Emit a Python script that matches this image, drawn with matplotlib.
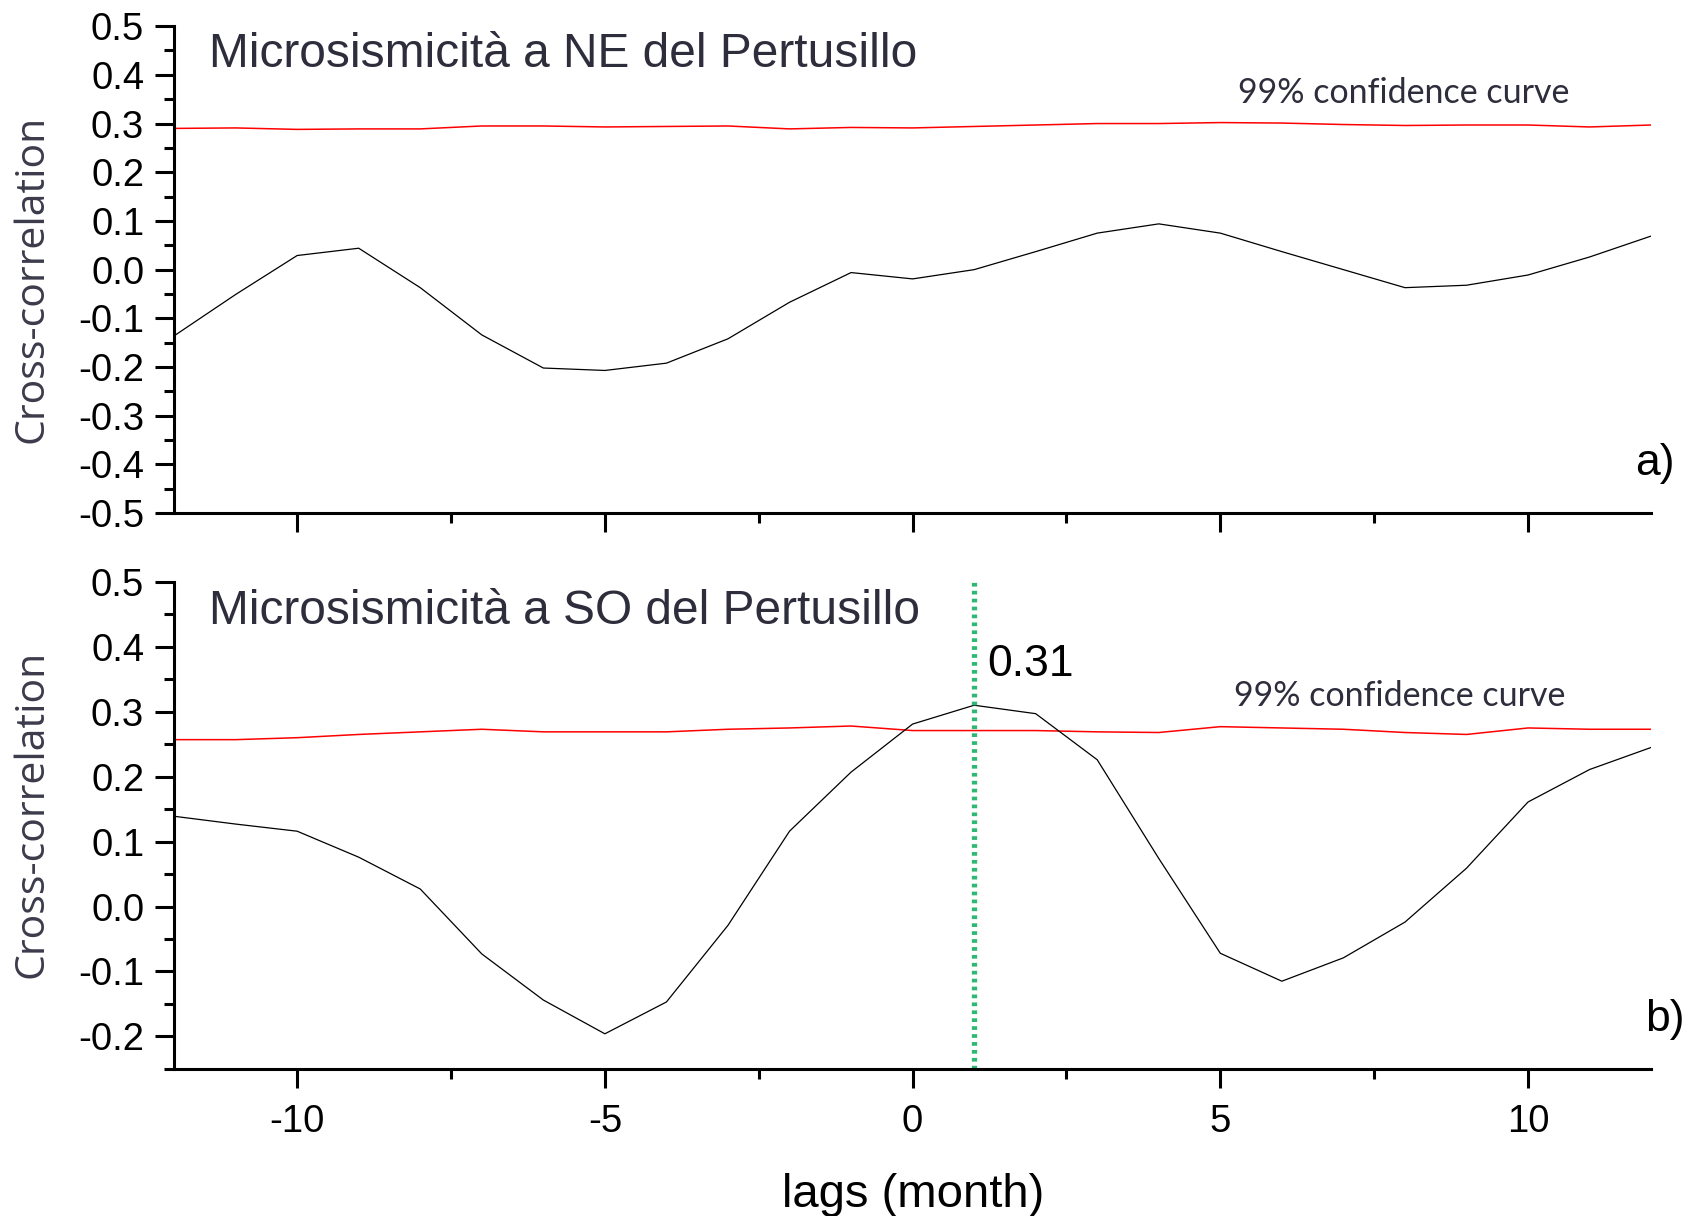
import numpy as np
import matplotlib
matplotlib.use("Agg")
import matplotlib.pyplot as plt
from matplotlib.ticker import MultipleLocator

plt.rcParams['font.family'] = ['Liberation Sans', 'DejaVu Sans']

# lags in months
lags = np.arange(-12, 13)

# panel a) NE del Pertusillo
ne_corr = [-0.136, -0.051, 0.029, 0.044, -0.037, -0.134, -0.202, -0.207, -0.192,
           -0.142, -0.067, -0.006, -0.019, 0.000, 0.037, 0.075, 0.094, 0.075,
           0.037, 0.000, -0.037, -0.032, -0.011, 0.026, 0.069]
ne_conf = [0.290, 0.291, 0.288, 0.289, 0.289, 0.295, 0.295, 0.293, 0.294,
           0.295, 0.289, 0.292, 0.291, 0.294, 0.297, 0.300, 0.300, 0.302,
           0.301, 0.298, 0.296, 0.297, 0.297, 0.293, 0.297]

# panel b) SO del Pertusillo
so_corr = [0.139, 0.127, 0.116, 0.076, 0.027, -0.073, -0.144, -0.196, -0.147,
           -0.029, 0.116, 0.207, 0.281, 0.310, 0.297, 0.226, 0.074, -0.072,
           -0.115, -0.079, -0.024, 0.059, 0.161, 0.211, 0.245]
so_conf = [0.257, 0.257, 0.260, 0.265, 0.269, 0.273, 0.269, 0.269, 0.269,
           0.273, 0.275, 0.278, 0.271, 0.271, 0.271, 0.269, 0.268, 0.277,
           0.275, 0.273, 0.268, 0.265, 0.275, 0.273, 0.273]

peak_lag = 1
peak_label = "0.31"

fig = plt.figure(figsize=(16.9, 12.16), dpi=100)
ax1 = fig.add_axes([0.103, 0.578, 0.874, 0.4005])
ax2 = fig.add_axes([0.103, 0.121, 0.874, 0.4005])

title_col = '#2d2d3c'

for ax in (ax1, ax2):
    for s in ('top', 'right'):
        ax.spines[s].set_visible(False)
    for s in ('left', 'bottom'):
        ax.spines[s].set_linewidth(2.2)
    ax.set_xlim(-12, 12)
    ax.xaxis.set_major_locator(MultipleLocator(5))
    ax.xaxis.set_minor_locator(MultipleLocator(2.5))
    ax.yaxis.set_major_locator(MultipleLocator(0.1))
    ax.yaxis.set_minor_locator(MultipleLocator(0.05))
    ax.tick_params(which='major', direction='out', length=13.5, width=2.2, labelsize=27.5)
    ax.tick_params(which='minor', direction='out', length=7, width=2.2)
    ax.tick_params(axis='y', which='major', pad=8)
    ax.tick_params(axis='x', which='major', pad=12)
    ax.yaxis.set_major_formatter(matplotlib.ticker.FormatStrFormatter('%.1f'))

ax1.plot(lags, ne_conf, color='red', lw=1.1)
ax1.plot(lags, ne_corr, color='black', lw=0.9)
ax1.set_ylim(-0.5, 0.5)
ax1.tick_params(axis='x', labelbottom=False)
ax1.text(0.0237, 0.916, "Microsismicità a NE del Pertusillo", transform=ax1.transAxes,
         fontsize=34.5, color=title_col)
ax1.text(0.720, 0.8425, "99% confidence curve", transform=ax1.transAxes,
         fontsize=24.5, color=title_col, family='Lato')
ax1.text(0.989, 0.078, "a)", transform=ax1.transAxes, fontsize=32, clip_on=False)

ax2.plot(lags, so_conf, color='red', lw=1.1)
ax2.plot(lags, so_corr, color='black', lw=0.9)
ax2.set_ylim(-0.25, 0.5)
ax2.axvline(peak_lag, color='#2eb872', lw=3.8, ls=(0, (0.7, 0.8)))
ax2.text(peak_lag + 0.21, 0.355, peak_label, fontsize=32)
ax2.text(0.0237, 0.914, "Microsismicità a SO del Pertusillo", transform=ax2.transAxes,
         fontsize=34.5, color=title_col)
ax2.text(0.7177, 0.745, "99% confidence curve", transform=ax2.transAxes,
         fontsize=24.5, color=title_col, family='Lato')
ax2.text(0.996, 0.077, "b)", transform=ax2.transAxes, fontsize=32, clip_on=False)
ax2.set_xticks([-10, -5, 0, 5, 10])
ax2.set_xticklabels(['-10', '-5', '0', '5', '10'])

fig.text(0.5403, 0.0075, "lags (month)", ha='center', va='baseline', fontsize=34)
fig.text(0.019, 0.771, "Cross-correlation", rotation=90, ha='center', va='center',
         fontsize=29.5, color='#3b3b4b', family='Open Sans')
fig.text(0.019, 0.3306, "Cross-correlation", rotation=90, ha='center', va='center',
         fontsize=29.5, color='#3b3b4b', family='Open Sans')

fig.savefig('out.png', dpi=100)
